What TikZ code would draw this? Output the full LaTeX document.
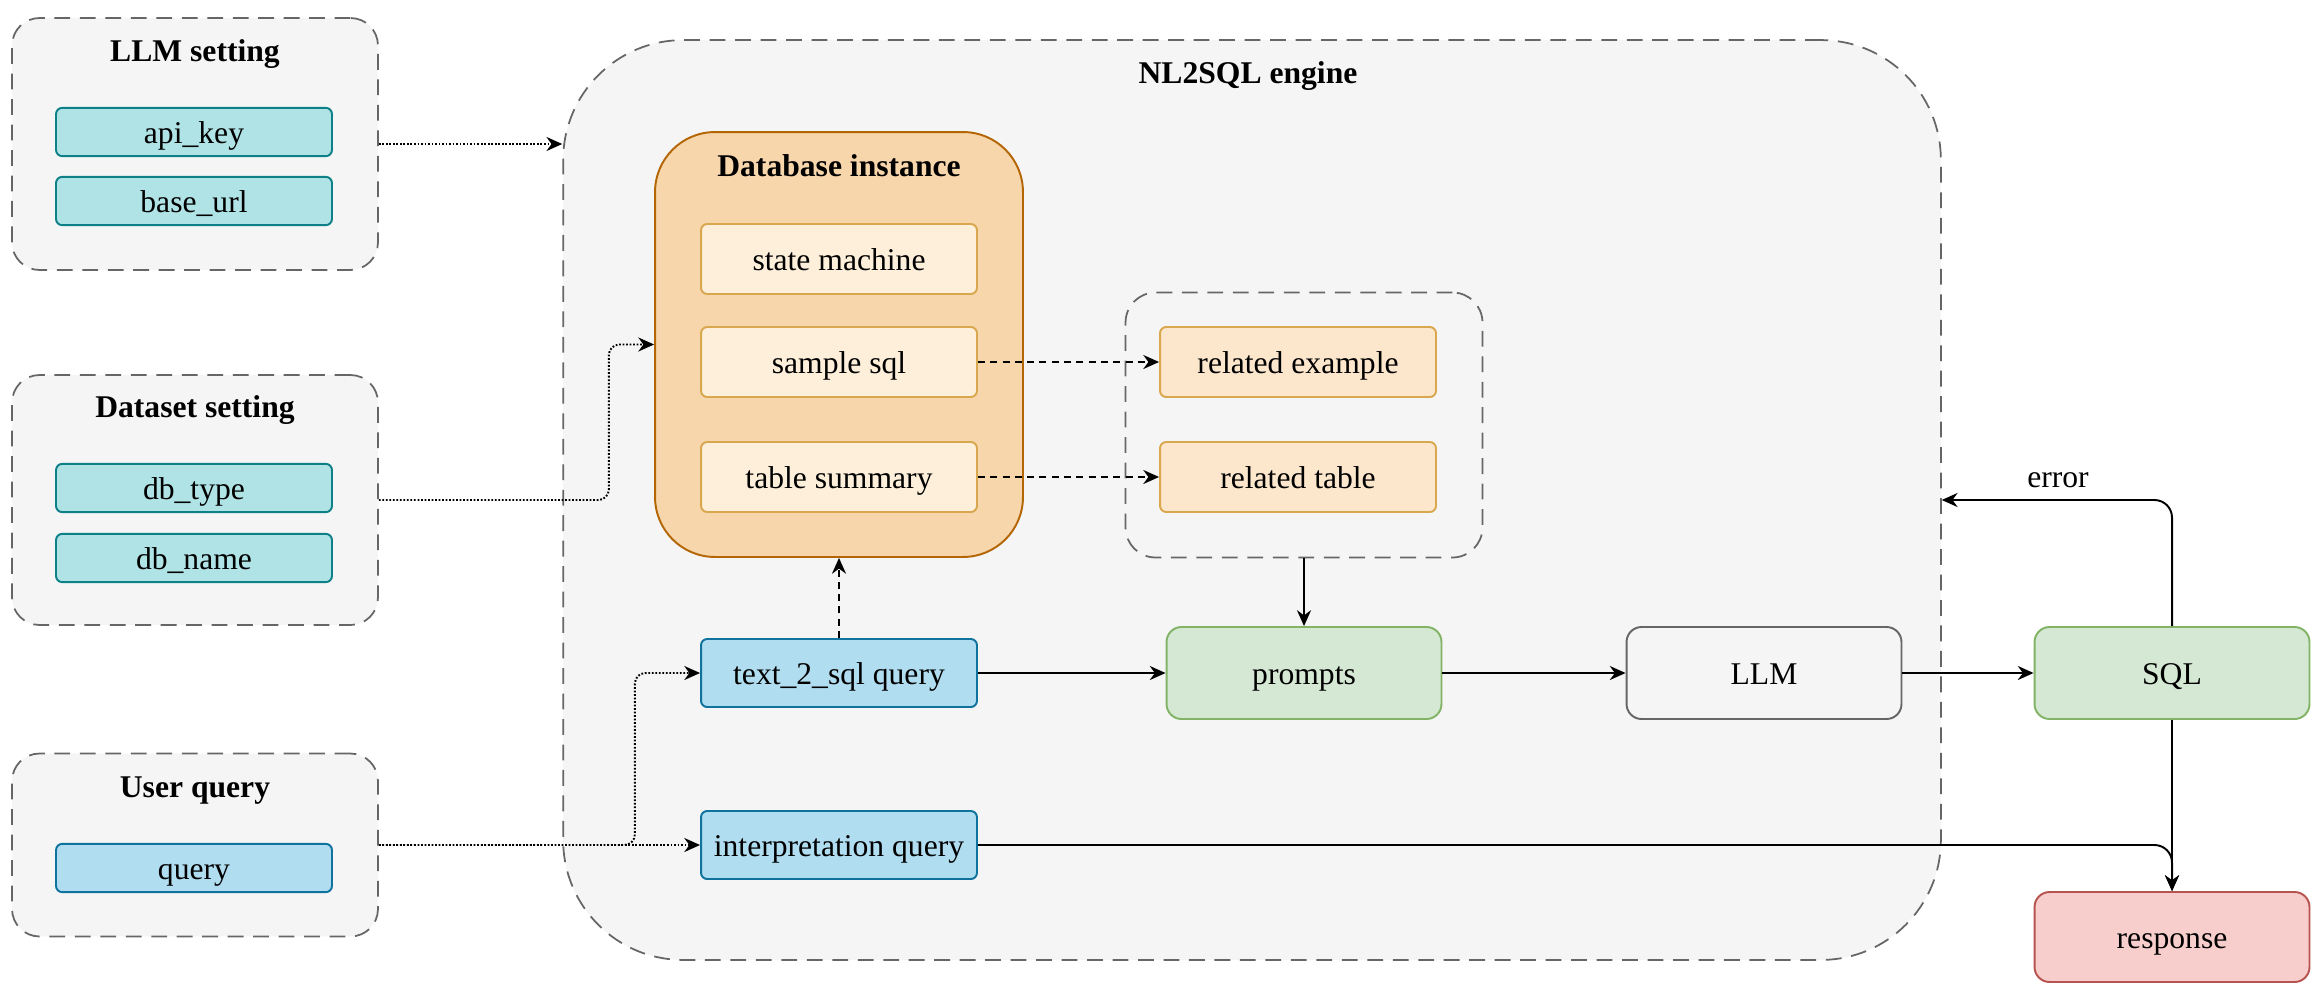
\documentclass[tikz,border=0pt]{standalone}
\usepackage{fontspec}
\setmainfont{Liberation Serif}
\usetikzlibrary{arrows.meta}

\definecolor{grpfill}{HTML}{F5F5F5}
\definecolor{grpline}{HTML}{666666}
\definecolor{tealfill}{HTML}{B0E3E6}
\definecolor{tealline}{HTML}{0E8088}
\definecolor{bluefill}{HTML}{B1DDF0}
\definecolor{blueline}{HTML}{10739E}
\definecolor{dbfill}{HTML}{F7D6AC}
\definecolor{dbline}{HTML}{B46504}
\definecolor{itemfill}{HTML}{FDEFDA}
\definecolor{itemline}{HTML}{D9A84E}
\definecolor{relfill}{HTML}{FCE6CC}
\definecolor{relline}{HTML}{D9A84E}
\definecolor{greenfill}{HTML}{D5E8D4}
\definecolor{greenline}{HTML}{82B366}
\definecolor{redfill}{HTML}{F8CECC}
\definecolor{redline}{HTML}{B85450}

\begin{document}
\begin{tikzpicture}[x=0.02cm, y=-0.02cm,
	every node/.style={font=\fontsize{18}{22}\selectfont, text height=17pt, text depth=3.8pt},
	grp/.style={draw=grpline, fill=grpfill, line width=1pt, dash pattern=on 9pt off 5.5pt, rounded corners=0.55cm},
	smallbox/.style={draw, line width=1.1pt, rounded corners=3.5pt, minimum width=5.52cm, minimum height=1.4cm},
	tealbox/.style={smallbox, draw=tealline, fill=tealfill, minimum height=0.92cm},
	bluebox/.style={smallbox, draw=blueline, fill=bluefill, minimum height=1.36cm},
	itembox/.style={smallbox, draw=itemline, fill=itemfill},
	relbox/.style={smallbox, draw=relline, fill=relfill},
	bigbox/.style={draw, line width=1.1pt, rounded corners=0.3cm, minimum width=5.5cm, minimum height=1.84cm},
	title/.style={font=\fontsize{18}{22}\selectfont\bfseries},
	conn/.style={-{Stealth[length=9pt,width=8pt]}, line width=1.1pt},
	dotconn/.style={conn, dash pattern=on 1pt off 1pt},
	dashconn/.style={conn, dash pattern=on 4pt off 3pt}]

	\useasboundingbox (0,0) rectangle (2324,994);
	\fill[white] (0,0) rectangle (2324,994);

	\node at (195,144) [grp, minimum width=7.32cm, minimum height=5.04cm] (llmset) {};
	\node at (195,50) [title] (llmtitle) {LLM setting};
	\node at (194,132) [tealbox] (apikey) {api\_key};
	\node at (194,201) [tealbox] (baseurl) {base\_url};

	\node at (195,500) [grp, minimum width=7.32cm, minimum height=5cm] (dataset) {};
	\node at (195,406) [title] (datatitle) {Dataset setting};
	\node at (194,488) [tealbox] (dbtype) {db\_type};
	\node at (194,558) [tealbox] (dbname) {db\_name};

	\node at (195,845) [grp, minimum width=7.32cm, minimum height=3.66cm] (userq) {};
	\node at (195,786) [title] (usertitle) {User query};
	\node at (194,868) [bluebox, minimum height=0.96cm] (query) {query};

	\node at (1252,500) [grp, rounded corners=2.4cm, minimum width=27.56cm, minimum height=18.4cm] (engine) {};
	\node at (1248,72) [title] (enginetitle) {NL2SQL engine};

	\node at (839,344.5) [draw=dbline, fill=dbfill, line width=1.1pt, rounded corners=1.2cm, minimum width=7.36cm, minimum height=8.5cm] (dbinst) {};
	\node at (839,165) [title] (dbtitle) {Database instance};
	\node at (839,259) [itembox] (statem) {state machine};
	\node at (839,362) [itembox] (samplesql) {sample sql};
	\node at (839,477) [itembox] (tablesum) {table summary};

	\node at (1304,425) [grp, rounded corners=0.6cm, minimum width=7.14cm, minimum height=5.3cm] (relgroup) {};
	\node at (1298,362) [relbox] (relex) {related example};
	\node at (1298,477) [relbox] (reltab) {related table};

	\node at (839,673) [bluebox] (t2sq) {text\_2\_sql query};
	\node at (839,845) [bluebox] (interq) {interpretation query};

	\node at (1304,673) [bigbox, draw=greenline, fill=greenfill] (prompts) {prompts};
	\node at (1764,673) [bigbox, draw=grpline, fill=grpfill] (llm) {LLM};
	\node at (2172,673) [bigbox, draw=greenline, fill=greenfill] (sql) {SQL};
	\node at (2172,937) [bigbox, draw=redline, fill=redfill, minimum height=1.8cm] (response) {response};
	\node at (2058,476) (errlbl) {error};

	\draw[dotconn] (llmset.east) -- (engine.west |- llmset.east);
	\draw[dotconn, rounded corners=6pt] (dataset.east) -- ++(230,0) |- (dbinst.west);
	\draw[dotconn] (userq.east) -- (interq.west);
	\draw[dotconn, rounded corners=6pt] (userq.east) -- ++(256,0) |- (t2sq.west);

	\draw[dashconn] (t2sq.north) -- (dbinst.south);
	\draw[dashconn] (samplesql.east) -- (relex.west);
	\draw[dashconn] (tablesum.east) -- (reltab.west);

	\draw[conn] (relgroup.south) -- (prompts.north);
	\draw[conn] (t2sq) -- (prompts);
	\draw[conn] (prompts) -- (llm);
	\draw[conn] (llm) -- (sql);
	\draw[conn, rounded corners=10pt] (sql.north) |- (engine.east);
	\draw[conn] (sql) -- (response);
	\draw[conn, rounded corners=10pt] (interq.east) -| (response.north);
\end{tikzpicture}
\end{document}
